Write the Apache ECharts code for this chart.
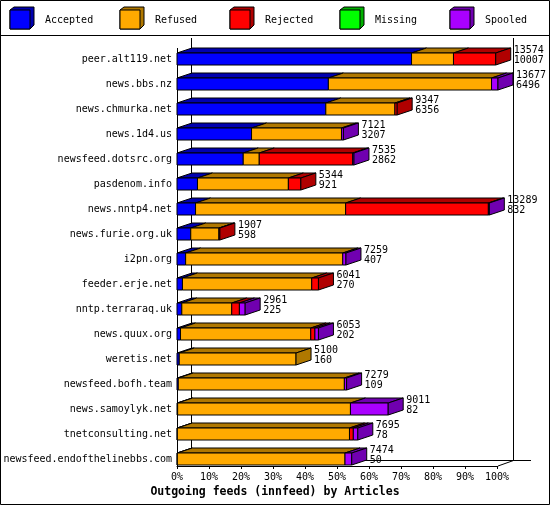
<!DOCTYPE html>
<html>
<head>
<meta charset="utf-8">
<script src="https://cdn.jsdelivr.net/npm/echarts@6/dist/echarts.min.js"></script>
<style>html,body{margin:0;padding:0;background:#fff}#chart{width:550px;height:505px}</style>
</head>
<body>
<div id="chart"></div>
<script>
var hosts = ['peer.alt119.net','news.bbs.nz','news.chmurka.net','news.1d4.us','newsfeed.dotsrc.org','pasdenom.info','news.nntp4.net','news.furie.org.uk','i2pn.org','feeder.erje.net','nntp.terraraq.uk','news.quux.org','weretis.net','newsfeed.bofh.team','news.samoylyk.net','tnetconsulting.net','newsfeed.endofthelinebbs.com'];
// percent of axis
var accepted = [73.3, 47.3, 46.5, 23.3, 20.7, 6.4, 5.8, 4.3, 2.7, 1.7, 1.5, 1.1, 0.7, 0.4, 0.2, 0.1, 0.1];
var refused  = [13.1, 51.0, 21.6, 28.1, 5.0, 28.4, 46.9, 8.8, 49.1, 40.4, 15.6, 40.7, 36.5, 51.9, 54.0, 53.8, 52.4];
var rejected = [13.2, 0, 0.7, 0, 29.2, 3.9, 44.6, 0.3, 0, 2.1, 2.4, 1.3, 0, 0, 0, 1.2, 0];
var missing  = [0, 0, 0, 0, 0, 0, 0, 0, 0, 0, 0, 0, 0, 0, 0, 0, 0];
var spooled  = [0, 2.0, 0, 0.6, 0.4, 0, 0.3, 0, 1.0, 0, 1.8, 1.1, 0, 0.7, 11.8, 1.4, 2.1];
var offered  = [13574, 13677, 9347, 7121, 7535, 5344, 13289, 1907, 7259, 6041, 2961, 6053, 5100, 7279, 9011, 7695, 7474];
var acceptedCount = [10007, 6496, 6356, 3207, 2862, 921, 832, 598, 407, 270, 225, 202, 160, 109, 82, 78, 50];

var names = ['Accepted','Refused','Rejected','Missing','Spooled'];
var front = ['#0000ff','#ffaa00','#ff0000','#00ff00','#aa00ff'];
var dark  = ['#0000b0','#b07800','#b00000','#00b000','#7000b0'];
var cols = [accepted, refused, rejected, missing, spooled];
var DX = 15, DY = 5, H = 12;

var seriesData = names.map(function () { return []; });
hosts.forEach(function (h, r) {
  var s = 0, last = -1;
  cols.forEach(function (c, k) { if (c[r] > 0) last = k; });
  cols.forEach(function (c, k) {
    if (c[r] > 0) { seriesData[k].push([s, s + c[r], r, k === last ? 1 : 0]); s += c[r]; }
  });
});

function makeRender(k) {
  return function (params, api) {
    var a = api.coord([api.value(0), api.value(2)]);
    var b = api.coord([api.value(1), api.value(2)]);
    var y0 = a[1] - H / 2, y1 = a[1] + H / 2;
    var st = {stroke: '#000', lineWidth: 1};
    var kids = [
      {type: 'polygon', shape: {points: [[a[0], y0], [a[0] + DX, y0 - DY], [b[0] + DX, y0 - DY], [b[0], y0]]}, style: Object.assign({fill: dark[k]}, st)},
      {type: 'rect', shape: {x: a[0], y: y0, width: b[0] - a[0], height: H}, style: Object.assign({fill: front[k]}, st)}
    ];
    if (api.value(3)) {
      kids.push({type: 'polygon', shape: {points: [[b[0], y0], [b[0] + DX, y0 - DY], [b[0] + DX, y1 - DY], [b[0], y1]]}, style: Object.assign({fill: dark[k]}, st)});
    }
    return {type: 'group', children: kids};
  };
}

var series = names.map(function (n, k) {
  return {type: 'custom', name: n, data: seriesData[k], renderItem: makeRender(k), encode: {x: [0, 1], y: 2}};
});

var labelData = hosts.map(function (h, r) {
  var t = 0; cols.forEach(function (c) { t += c[r]; });
  return [t, r, offered[r], acceptedCount[r]];
});
series.push({
  type: 'custom', name: 'labels', data: labelData, encode: {x: 0, y: 1},
  renderItem: function (params, api) {
    var p = api.coord([api.value(0), api.value(1)]);
    return {type: 'text', style: {x: p[0] + DX + 3, y: p[1] - 14, text: api.value(2) + '\n' + api.value(3),
      font: '10px "DejaVu Sans Mono"', lineHeight: 10, fill: '#000', verticalAlign: 'top'}};
  }
});

var graphics = [
  {type: 'rect', shape: {x: 0.5, y: 0.5, width: 549, height: 504}, style: {fill: 'none', stroke: '#000'}},
  {type: 'line', shape: {x1: 0, y1: 35.5, x2: 550, y2: 35.5}, style: {stroke: '#000'}},
  {type: 'line', shape: {x1: 177.5, y1: 48, x2: 177.5, y2: 466}, style: {stroke: '#000'}},
  {type: 'line', shape: {x1: 191.5, y1: 38, x2: 191.5, y2: 461}, style: {stroke: '#000'}},
  {type: 'line', shape: {x1: 513.5, y1: 38, x2: 513.5, y2: 461}, style: {stroke: '#000'}},
  {type: 'line', shape: {x1: 191.5, y1: 460.5, x2: 531, y2: 460.5}, style: {stroke: '#000'}},
  {type: 'line', shape: {x1: 498, y1: 466, x2: 513.5, y2: 460.5}, style: {stroke: '#000'}}
];
names.forEach(function (n, k) {
  var x = 10 + k * 110;
  graphics.push(
    {type: 'polygon', shape: {points: [[x, 10], [x + 4, 7], [x + 24, 7], [x + 24, 25], [x + 20, 29], [x, 29]]}, style: {fill: dark[k], stroke: '#000'}},
    {type: 'rect', shape: {x: x, y: 10, width: 20, height: 19}, style: {fill: front[k], stroke: '#000'}},
    {type: 'text', style: {x: x + 35, y: 20, text: n, font: '10px "DejaVu Sans Mono"', fill: '#000', verticalAlign: 'middle'}}
  );
});
graphics.push({type: 'text', style: {x: 275, y: 492, text: 'Outgoing feeds (innfeed) by Articles',
  font: 'bold 11.5px "DejaVu Sans Mono"', fill: '#000', align: 'center', verticalAlign: 'middle'}});

var chart = echarts.init(document.getElementById('chart'), null, {renderer: 'canvas'});
chart.setOption({
  animation: false,
  backgroundColor: '#fff',
  grid: {left: 177, right: 53, top: 46.5, bottom: 33.5},
  xAxis: {type: 'value', min: 0, max: 100, interval: 10, offset: -5.5,
    axisLine: {show: true, lineStyle: {color: '#000'}},
    axisTick: {show: true, length: 3, lineStyle: {color: '#000'}},
    splitLine: {show: false},
    axisLabel: {formatter: '{value}%', color: '#000', fontFamily: 'DejaVu Sans Mono', fontSize: 10, margin: 6}},
  yAxis: {type: 'category', data: hosts, inverse: true,
    axisLine: {show: false}, axisTick: {show: false},
    axisLabel: {color: '#000', fontFamily: 'DejaVu Sans Mono', fontSize: 10, margin: 5}},
  series: series,
  graphic: graphics
});
</script>
</body>
</html>
